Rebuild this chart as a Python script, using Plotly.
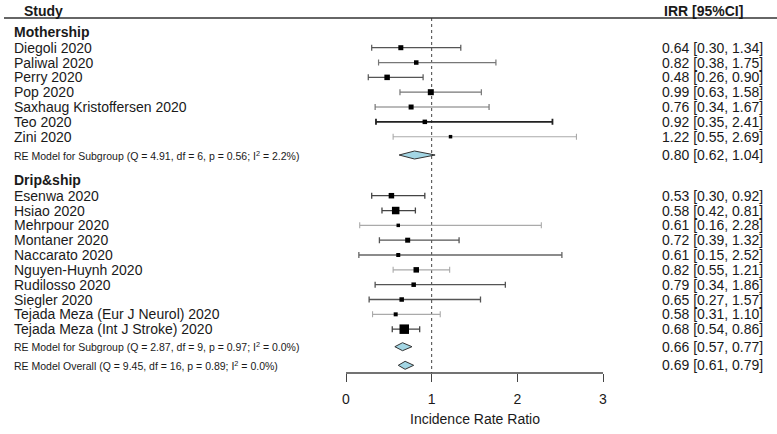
import plotly.graph_objects as go

# ---------------- data ----------------
mother_studies = ["Diegoli 2020", "Paliwal 2020", "Perry 2020", "Pop 2020",
                  "Saxhaug Kristoffersen 2020", "Teo 2020", "Zini 2020"]
mother_irr = [0.64, 0.82, 0.48, 0.99, 0.76, 0.92, 1.22]
mother_lo = [0.30, 0.38, 0.26, 0.63, 0.34, 0.35, 0.55]
mother_hi = [1.34, 1.75, 0.90, 1.58, 1.67, 2.41, 2.69]

drip_studies = ["Esenwa 2020", "Hsiao 2020", "Mehrpour 2020", "Montaner 2020",
                "Naccarato 2020", "Nguyen-Huynh 2020", "Rudilosso 2020", "Siegler 2020",
                "Tejada Meza (Eur J Neurol) 2020", "Tejada Meza (Int J Stroke) 2020"]
drip_irr = [0.53, 0.58, 0.61, 0.72, 0.61, 0.82, 0.79, 0.65, 0.58, 0.68]
drip_lo = [0.30, 0.42, 0.16, 0.39, 0.15, 0.55, 0.34, 0.27, 0.31, 0.54]
drip_hi = [0.92, 0.81, 2.28, 1.32, 2.52, 1.21, 1.86, 1.57, 1.10, 0.86]

summary_labels = [
    "RE Model for Subgroup (Q = 4.91, df = 6, p = 0.56; I<sup>2</sup> = 2.2%)",
    "RE Model for Subgroup (Q = 2.87, df = 9, p = 0.97; I<sup>2</sup> = 0.0%)",
    "RE Model Overall (Q = 9.45, df = 16, p = 0.89; I<sup>2</sup> = 0.0%)",
]
summary_est = [0.80, 0.66, 0.69]
summary_lo = [0.62, 0.57, 0.61]
summary_hi = [1.04, 0.77, 0.79]

group_names = ["Mothership", "Drip&ship"]
tick_vals = [0, 1, 2, 3]
tick_text = ["0", "1", "2", "3"]
x_title = "Incidence Rate Ratio"
left_header = "Study"
right_header = "IRR [95%CI]"

# ---------------- styles (not data) ----------------
mother_sizes = [5, 4.5, 5.5, 6, 5, 4.5, 3.5]
drip_sizes = [5.5, 7.5, 3.5, 5, 4, 5.5, 4.5, 4.5, 4, 9.5]
mother_lc = ["#555", "#777", "#555", "#777", "#777", "#222", "#aaa"]
drip_lc = ["#444", "#444", "#aaa", "#555", "#666", "#aaa", "#555", "#555", "#aaa", "#444"]
mother_lw = [1.2, 1.2, 1.2, 1.2, 1.2, 1.8, 1.1]
drip_lw = [1.3, 1.3, 1.1, 1.3, 1.3, 1.1, 1.3, 1.3, 1.1, 1.3]

W, H = 777, 434
PX_PER_UNIT = 85.67
X0_PX = 346
xmin = -X0_PX / PX_PER_UNIT
xmax = (W - X0_PX) / PX_PER_UNIT

ROW = 14.83
ROW0_PX = 47.7
AXIS_PX = 373
def row_of(px):
    return (px - ROW0_PX) / ROW

y_top = row_of(0)
y_bot = row_of(AXIS_PX)

mother_rows = [i for i in range(len(mother_studies))]
drip_start = row_of(195.7)
drip_rows = [drip_start + i for i in range(len(drip_studies))]
summary_rows = [row_of(155), row_of(346.7), row_of(365.3)]
group_rows = [row_of(31.7), row_of(180)]
header_row = row_of(10.5)
header_line_row = row_of(18)

FONT = "Liberation Sans, Arial, sans-serif"
TXT = "#1a1a1a"

fig = go.Figure()

def add_study(est, lo, hi, row, size, lc, lw):
    fig.add_trace(go.Scatter(
        x=[est], y=[row], mode="markers",
        marker=dict(symbol="square", size=size, color="black", line=dict(width=0)),
        error_x=dict(type="data", symmetric=False, array=[hi - est], arrayminus=[est - lo],
                     color=lc, thickness=lw, width=3),
        showlegend=False, hoverinfo="skip"))

for i in range(len(mother_studies)):
    add_study(mother_irr[i], mother_lo[i], mother_hi[i], mother_rows[i],
              mother_sizes[i], mother_lc[i], mother_lw[i])
for i in range(len(drip_studies)):
    add_study(drip_irr[i], drip_lo[i], drip_hi[i], drip_rows[i],
              drip_sizes[i], drip_lc[i], drip_lw[i])

# diamonds
dh = 0.27
for est, lo, hi, row in zip(summary_est, summary_lo, summary_hi, summary_rows):
    fig.add_trace(go.Scatter(
        x=[lo, est, hi, est, lo], y=[row, row - dh, row, row + dh, row],
        mode="lines", fill="toself", fillcolor="#a3d6e4",
        line=dict(color="#333", width=1), showlegend=False, hoverinfo="skip"))

# reference dotted line
fig.add_shape(type="line", x0=1, x1=1, y0=header_line_row, y1=y_bot, xref="x", yref="y",
              line=dict(color="#444", width=1, dash="dot"), layer="below")
# header line
fig.add_shape(type="line", x0=4 / W, x1=1, y0=header_line_row, y1=header_line_row,
              xref="paper", yref="y", line=dict(color="#333", width=1.3))
# axis line
fig.add_shape(type="line", x0=tick_vals[0], x1=tick_vals[-1], y0=0, y1=0, xref="x", yref="paper",
              line=dict(color="#444", width=1.3))

ann = []
def left_text(text, row, size=14, bold=False, xpx=12):
    ann.append(dict(x=xpx / W, y=row, xref="paper", yref="y", xanchor="left", yanchor="middle",
                    text=("<b>%s</b>" % text) if bold else text, showarrow=False,
                    font=dict(family=FONT, size=size, color=TXT)))

def right_text(text, row, size=14, bold=False, xpx=765):
    ann.append(dict(x=xpx / W, y=row, xref="paper", yref="y", xanchor="right", yanchor="middle",
                    text=("<b>%s</b>" % text) if bold else text, showarrow=False,
                    font=dict(family=FONT, size=size, color=TXT)))

def fmt(e, l, h):
    return "%.2f [%.2f, %.2f]" % (e, l, h)

left_text(left_header, header_row, bold=True, xpx=22)
right_text(right_header, header_row, bold=True, xpx=745)
left_text(group_names[0], group_rows[0], bold=True)
left_text(group_names[1], group_rows[1], bold=True)
for i, s in enumerate(mother_studies):
    left_text(s, mother_rows[i])
    right_text(fmt(mother_irr[i], mother_lo[i], mother_hi[i]), mother_rows[i])
for i, s in enumerate(drip_studies):
    left_text(s, drip_rows[i])
    right_text(fmt(drip_irr[i], drip_lo[i], drip_hi[i]), drip_rows[i])
for i, s in enumerate(summary_labels):
    left_text(s, summary_rows[i], size=10.5)
    right_text(fmt(summary_est[i], summary_lo[i], summary_hi[i]), summary_rows[i])

ann.append(dict(x=(X0_PX + 1.5 * PX_PER_UNIT) / W, y=-(419 - AXIS_PX) / AXIS_PX,
                xref="paper", yref="paper", xanchor="center", yanchor="middle",
                showarrow=False, text=x_title,
                font=dict(family=FONT, size=14, color=TXT)))

fig.update_layout(
    width=W, height=H, margin=dict(l=0, r=0, t=0, b=H - AXIS_PX),
    paper_bgcolor="white", plot_bgcolor="white",
    annotations=ann,
    xaxis=dict(range=[xmin, xmax], showgrid=False, zeroline=False, showline=False,
               tickvals=tick_vals, ticktext=tick_text, ticks="outside", ticklen=8,
               tickwidth=1.3, tickcolor="#444", ticklabelstandoff=5,
               tickfont=dict(family=FONT, size=14, color=TXT)),
    yaxis=dict(range=[y_bot, y_top], showgrid=False, zeroline=False, showline=False,
               showticklabels=False, ticks=""),
)

fig.write_html("out.html", config={"displayModeBar": False},
               post_script="document.body.style.margin='0px';document.body.style.overflow='hidden';")
